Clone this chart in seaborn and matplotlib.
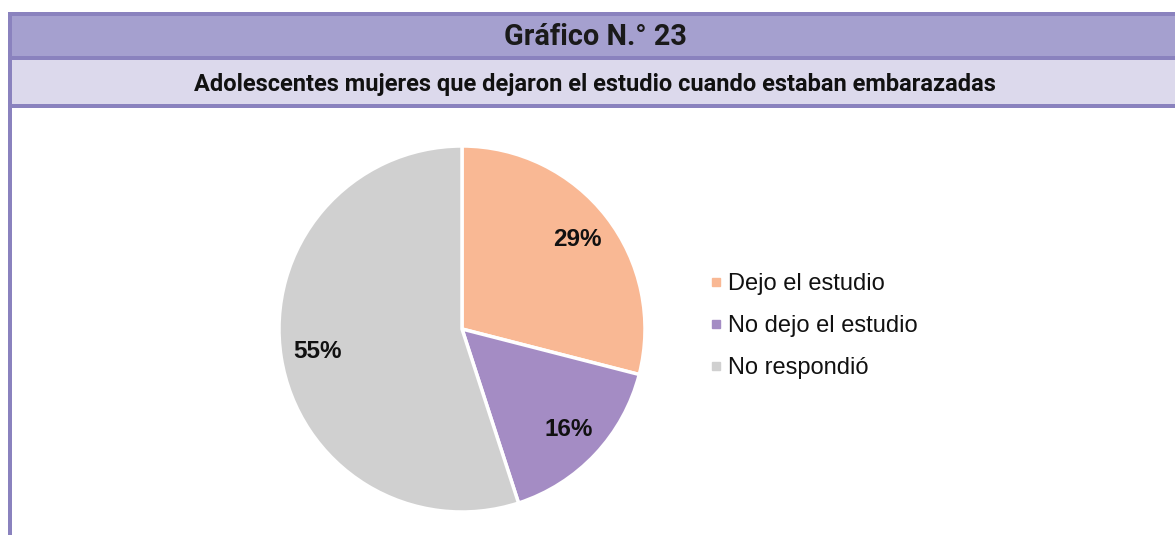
import matplotlib
matplotlib.use("Agg")
import matplotlib.pyplot as plt
from matplotlib.patches import Rectangle
from matplotlib.lines import Line2D
import seaborn as sns

W, H = 1175, 535

categories = ["Dejo el estudio", "No dejo el estudio", "No respondió"]
values = [29, 16, 55]
colors = ["#F9B894", "#A48CC4", "#D0D0D0"]

title = "Gráfico N.° 23"
subtitle = "Adolescentes mujeres que dejaron el estudio cuando estaban embarazadas"

sns.set_theme(style="white")
plt.rcParams["font.family"] = ["Liberation Sans", "DejaVu Sans"]

fig = plt.figure(figsize=(W / 100, H / 100), dpi=100)
fig.patch.set_facecolor("white")


def px_rect(x0, y0, x1, y1, color):
    # pixel coords from top-left
    fig.add_artist(Rectangle((x0 / W, 1 - y1 / H), (x1 - x0) / W, (y1 - y0) / H,
                             transform=fig.transFigure, facecolor=color,
                             edgecolor="none", zorder=1))


border = "#8A82BE"
px_rect(8, 16, W, 56, "#A5A0CF")
px_rect(8, 60, W, 104, "#DCD9EC")
px_rect(8, 12, W, 16, border)
px_rect(8, 56, W, 60, border)
px_rect(8, 104, W, 108, border)
px_rect(8, 12, 12, H, border)

fig.text(595 / W, 1 - 37 / H, title, ha="center", va="center",
         fontsize=20.8, family="Roboto", fontweight="bold", color="#1a1a1a")
fig.text(595 / W, 1 - 84 / H, subtitle, ha="center", va="center",
         fontsize=17, family="Roboto", fontweight="bold", color="#111111")

# pie axes
cx, cy, r = 462, 329, 183
ax = fig.add_axes([(cx - r) / W, 1 - (cy + r) / H, 2 * r / W, 2 * r / H])
wedges, _, autotexts = ax.pie(values, colors=colors, startangle=90, counterclock=False,
                              autopct="%1.0f%%", pctdistance=0.8,
                              wedgeprops=dict(edgecolor="white", linewidth=2.5))
for t in autotexts:
    t.set_fontsize(17.5)
    t.set_fontweight("bold")
    t.set_color("#111111")
ax.set_xlim(-1, 1)
ax.set_ylim(-1, 1)
ax.set_aspect("equal")
ax.axis("off")

handles = [Line2D([], [], marker="s", linestyle="none", markersize=6,
                  markerfacecolor=c, markeredgecolor=c) for c in colors]
fig.legend(handles, categories, loc="center left",
           bbox_to_anchor=(698 / W, 1 - 326 / H), frameon=False,
           fontsize=17, handlelength=0.5, handletextpad=0.25,
           labelspacing=0.85, borderpad=0, labelcolor="#111111")

fig.savefig("out.png", dpi=100)
